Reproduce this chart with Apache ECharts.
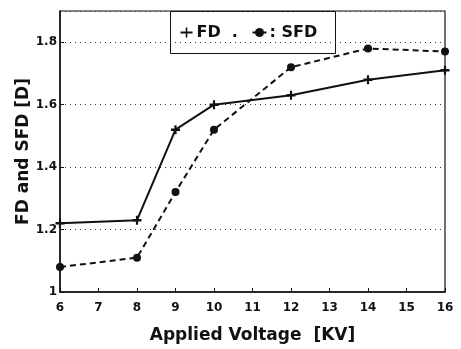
<!DOCTYPE html>
<html>
<head>
<meta charset="utf-8">
<script src="https://cdn.jsdelivr.net/npm/echarts@6/dist/echarts.min.js"></script>
<style>
  html, body { margin: 0; padding: 0; background: #fff; }
  #chart { width: 461px; height: 349px; }
</style>
</head>
<body>
<div id="chart"></div>
<script>
// Applied voltage [KV]
const voltage = [6, 8, 9, 10, 12, 14, 16];
// FD values (solid line, plus markers)
const fdValues = [1.22, 1.23, 1.52, 1.60, 1.63, 1.68, 1.71];
// SFD values (dashed line, dot markers)
const sfdValues = [1.08, 1.11, 1.32, 1.52, 1.72, 1.78, 1.77];

const fontFamily = '"DejaVu Sans", sans-serif';
const plusIcon = 'path://M0,3.6h10v2.8h-10z M3.8,0h2.4v10h-2.4z';

const chart = echarts.init(document.getElementById('chart'));

const option = {
  animation: false,
  grid: { left: 60, right: 16, top: 11, bottom: 56, show: true, borderColor: '#111', borderWidth: 1.2 },
  xAxis: {
    type: 'value',
    min: 6,
    max: 16,
    interval: 1,
    name: 'Applied Voltage  [KV]',
    nameLocation: 'middle',
    nameGap: 35,
    nameTextStyle: { color: '#111', fontSize: 17, fontWeight: 'bold', fontFamily },
    axisLine: { lineStyle: { color: '#111', width: 1.5 } },
    axisTick: { inside: true, length: 4, lineStyle: { color: '#111' } },
    axisLabel: { color: '#111', fontSize: 12, fontWeight: 'bold', fontFamily, margin: 10 },
    splitLine: { show: false },
  },
  yAxis: {
    type: 'value',
    min: 1,
    max: 1.9,
    interval: 0.2,
    name: 'FD and SFD [D]',
    nameLocation: 'middle',
    nameGap: 28,
    nameMoveOverlap: false,
    nameTextStyle: { color: '#111', fontSize: 17, fontWeight: 'bold', fontFamily },
    axisLine: { show: true, lineStyle: { color: '#111', width: 1.5 } },
    axisTick: { show: true, inside: true, length: 4, lineStyle: { color: '#111' } },
    axisLabel: {
      color: '#111', fontSize: 12, fontWeight: 'bold', fontFamily, margin: 3,
      showMaxLabel: false,
      formatter: (v) => (Math.abs(v - 1) < 1e-9 ? '1' : v.toFixed(1)),
    },
    splitLine: { lineStyle: { color: '#333', type: [1, 4], width: 1 } },
  },
  series: [
    {
      name: 'FD',
      type: 'line',
      data: voltage.map((x, i) => [x, fdValues[i]]),
      symbol: plusIcon,
      symbolSize: 9,
      lineStyle: { color: '#111', width: 2 },
      itemStyle: { color: '#111' },
    },
    {
      name: 'SFD',
      type: 'line',
      data: voltage.map((x, i) => [x, sfdValues[i]]),
      symbol: 'circle',
      symbolSize: 8,
      lineStyle: { color: '#111', width: 2, type: [6, 4] },
      itemStyle: { color: '#111' },
    },
  ],
  graphic: [
    {
      type: 'group',
      left: 170,
      top: 11,
      children: [
        { type: 'rect', shape: { x: 0, y: 0, width: 165, height: 42 }, style: { fill: '#fff', stroke: '#111', lineWidth: 1 } },
        { type: 'line', shape: { x1: 10, y1: 21, x2: 22, y2: 21 }, style: { stroke: '#111', lineWidth: 2 } },
        { type: 'line', shape: { x1: 16, y1: 16, x2: 16, y2: 26 }, style: { stroke: '#111', lineWidth: 1.6 } },
        { type: 'text', x: 26, y: 21, style: { text: 'FD  .', fill: '#111', font: 'bold 16px ' + fontFamily, verticalAlign: 'middle' } },
        { type: 'line', shape: { x1: 82, y1: 21, x2: 96, y2: 21 }, style: { stroke: '#111', lineWidth: 2 } },
        { type: 'circle', shape: { cx: 89, cy: 21, r: 4.5 }, style: { fill: '#111' } },
        { type: 'text', x: 99, y: 21, style: { text: ': SFD', fill: '#111', font: 'bold 16px ' + fontFamily, verticalAlign: 'middle' } },
      ],
    },
  ],
};

chart.setOption(option);
</script>
</body>
</html>
